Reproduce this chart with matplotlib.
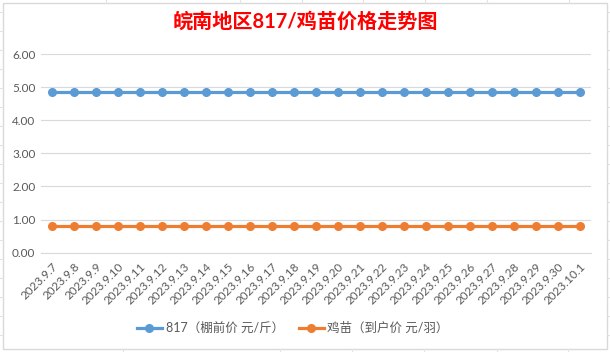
import matplotlib.pyplot as plt
from matplotlib.lines import Line2D

plt.rcParams['font.family'] = ['Lato', 'Noto Sans CJK SC', 'DejaVu Sans']

dates = ['2023.9.%d' % d for d in range(7, 31)] + ['2023.10.1']
price_817 = [4.85] * 25
price_chick = [0.80] * 25
series_names = ['817（棚前价 元/斤）', '鸡苗（到户价 元/羽）']
title = '皖南地区817/鸡苗价格走势图'
yticks = [0, 1, 2, 3, 4, 5, 6]

blue = '#5B9BD5'
orange = '#ED7D31'
grid = '#D9D9D9'
txt = '#595959'

fig = plt.figure(figsize=(6.1, 3.52), dpi=100)
W, H = 610, 352

# spreadsheet cell lines peeking out around the chart object
sheet = '#E3E3E3'
for yy in [12, 31, 50, 69, 88, 107, 126, 145, 164, 183, 202, 221, 240, 259, 278, 297, 316, 335]:
    fig.add_artist(Line2D([0, 3 / W], [1 - yy / H] * 2, color=sheet, lw=0.8))
    fig.add_artist(Line2D([607 / W, 1], [1 - yy / H] * 2, color=sheet, lw=0.8))
for xx in [106, 240, 302, 363, 425, 487, 569]:
    fig.add_artist(Line2D([xx / W] * 2, [1 - 3 / H, 1], color=sheet, lw=0.8))
for xx in [123, 280, 352, 424, 497, 568]:
    fig.add_artist(Line2D([xx / W] * 2, [0, 1 - 348.5 / H], color=sheet, lw=0.8))

# chart border
fig.add_artist(plt.Rectangle((3 / W, 1 - 348.5 / H), 604 / W, 345.5 / H,
                             fill=False, ec=grid, lw=1.0))

ax = fig.add_axes([41 / W, 1 - 252.7 / H, 550 / W, 198.7 / H])
x = range(len(dates))
ax.plot(x, price_817, color=blue, lw=2.3, marker='o', ms=5.5, label=series_names[0])
ax.plot(x, price_chick, color=orange, lw=2.3, marker='o', ms=5.5, label=series_names[1])

ax.set_xlim(-0.5, len(dates) - 0.5)
ax.set_ylim(0, 6)
ax.set_yticks(yticks)
ax.set_yticklabels(['%.2f' % v for v in yticks], color=txt, fontsize=8.5)
ax.set_xticks(list(x))
ax.set_xticklabels(dates, rotation=45, ha='right', va='top', rotation_mode='anchor',
                   color=txt, fontsize=8.5)
ax.tick_params(axis='both', length=0, pad=4)
ax.tick_params(axis='x', pad=6)
ax.grid(axis='y', color=grid, lw=0.8)
ax.set_axisbelow(True)
for s in ['top', 'right', 'left']:
    ax.spines[s].set_visible(False)
ax.spines['bottom'].set_color(grid)
ax.spines['bottom'].set_linewidth(0.8)

fig.text(0.5, 1 - 22 / H, title, ha='center', va='center', color='#FF0000',
         fontsize=14.5, fontweight='bold')

fig.legend(loc='center', bbox_to_anchor=(0.48, 1 - 328 / H), ncol=2, frameon=False,
           fontsize=9, labelcolor=txt, handlelength=2.0, columnspacing=1.2,
           handletextpad=0.3)

fig.savefig('out.png', dpi=100)
